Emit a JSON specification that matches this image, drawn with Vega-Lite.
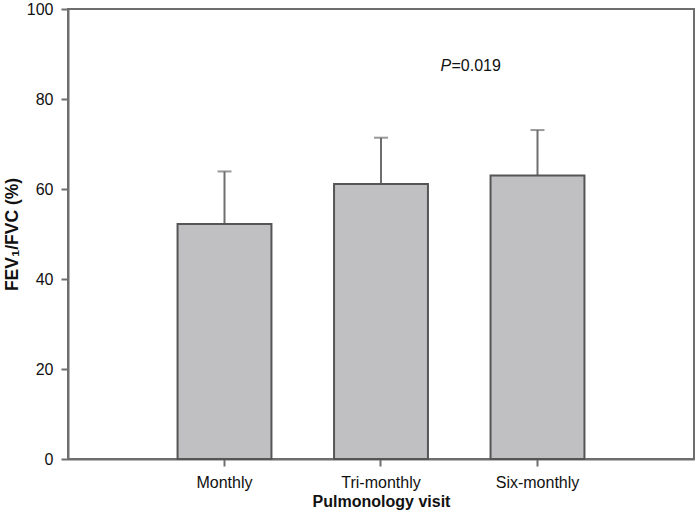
{
  "$schema": "https://vega.github.io/schema/vega-lite/v6.json",
  "width": 626,
  "height": 450,
  "autosize": {"type": "none"},
  "padding": {"left": 68, "top": 9, "right": 2, "bottom": 65},
  "background": "white",
  "config": {
    "font": "Liberation Sans",
    "view": {"stroke": "#6e6e6e", "strokeWidth": 2},
    "axis": {
      "domainColor": "#6e6e6e",
      "domainWidth": 2,
      "tickColor": "#6e6e6e",
      "tickWidth": 2,
      "tickSize": 7,
      "labelFont": "Liberation Sans",
      "labelFontSize": 16,
      "labelColor": "#111",
      "titleFont": "Liberation Sans",
      "titleFontSize": 16,
      "titleFontWeight": "bold",
      "titleColor": "#111",
      "grid": false
    }
  },
  "data": {
    "values": [
      {"visit": "Monthly", "mean": 52.2, "upper": 63.9},
      {"visit": "Tri-monthly", "mean": 61.1, "upper": 71.4},
      {"visit": "Six-monthly", "mean": 63.0, "upper": 73.1}
    ]
  },
  "encoding": {
    "x": {
      "field": "visit",
      "type": "nominal",
      "sort": ["Monthly", "Tri-monthly", "Six-monthly"],
      "scale": {"paddingInner": 0.4, "paddingOuter": 0.7},
      "axis": {"title": "Pulmonology visit", "labelAngle": 0, "labelPadding": 8, "titlePadding": 3}
    }
  },
  "layer": [
    {
      "mark": {"type": "rule", "color": "#6e6e6e", "strokeWidth": 2},
      "encoding": {
        "y": {"field": "mean", "type": "quantitative"},
        "y2": {"field": "upper"}
      }
    },
    {
      "mark": {"type": "tick", "orient": "horizontal", "color": "#6e6e6e", "thickness": 2, "size": 14},
      "encoding": {
        "y": {"field": "upper", "type": "quantitative"}
      }
    },
    {
      "mark": {"type": "bar", "fill": "#c0c0c2", "stroke": "#555555", "strokeWidth": 2},
      "encoding": {
        "y": {
          "field": "mean",
          "type": "quantitative",
          "scale": {"domain": [0, 100], "nice": false},
          "axis": {"title": "FEV₁/FVC (%)", "titleFontSize": 17.5, "values": [0, 20, 40, 60, 80, 100], "labelPadding": 8, "titlePadding": 5}
        }
      }
    },
    {
      "data": {"values": [{"visit": "Six-monthly", "y": 87.3, "t": "P"}]},
      "mark": {"type": "text", "fontStyle": "italic", "fontSize": 16, "align": "left", "baseline": "middle", "dx": -97, "color": "#111"},
      "encoding": {
        "y": {"field": "y", "type": "quantitative"},
        "text": {"field": "t"}
      }
    },
    {
      "data": {"values": [{"visit": "Six-monthly", "y": 87.3, "t": "=0.019"}]},
      "mark": {"type": "text", "fontSize": 16, "align": "left", "baseline": "middle", "dx": -86, "color": "#111"},
      "encoding": {
        "y": {"field": "y", "type": "quantitative"},
        "text": {"field": "t"}
      }
    }
  ]
}
